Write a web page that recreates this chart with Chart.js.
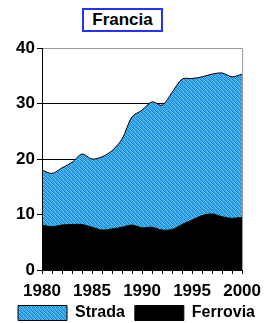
<!DOCTYPE html>
<html>
<head>
<meta charset="utf-8">
<script src="https://cdn.jsdelivr.net/npm/chart.js@4"></script>
<style>
  body { margin: 0; background: #fff; }
  #wrap { position: relative; width: 268px; height: 323px; }
  #title {
    position: absolute; left: 82px; top: 8px; width: 77px; height: 20px;
    border: 2px solid #2233ff; background: #fff;
    font: bold 17px "Liberation Sans", Arial, sans-serif; color: #000;
    text-align: center; line-height: 20px;
  }
</style>
</head>
<body>
<div id="wrap">
  <canvas id="myChart" width="268" height="323"></canvas>
  <div id="title">Francia</div>
</div>
<script>
// years on the x axis
const years = ['1980','1981','1982','1983','1984','1985','1986','1987','1988','1989','1990',
               '1991','1992','1993','1994','1995','1996','1997','1998','1999','2000'];
// rail (bottom layer)
const ferrovia = [8.1, 7.8, 8.1, 8.2, 8.2, 7.7, 7.2, 7.4, 7.7, 8.1, 7.6,
                  7.7, 7.2, 7.3, 8.2, 9.0, 9.8, 10.1, 9.6, 9.3, 9.5];
// road (stacked on top of rail)
const strada = [9.9, 9.6, 10.3, 11.2, 12.7, 12.3, 13.2, 14.1, 15.9, 19.5, 21.2,
                22.6, 22.5, 24.7, 26.2, 25.5, 25.0, 25.2, 25.9, 25.5, 25.8];
const yTicks = [0, 10, 20, 30, 40];

// dithered blue fill like the original
const makePattern = () => {
  const c = document.createElement('canvas');
  c.width = 4; c.height = 4;
  const g = c.getContext('2d');
  const cols = ['#3cc8f0','#2f7fd8','#28a8c8','#44b8f8',
                '#2890d0','#40d0ff','#3570e0','#30b0d8',
                '#38c0e8','#2a98c0','#48c8ff','#3080e0',
                '#3468d8','#3cb8e8','#28a0d0','#40c0f0'];
  cols.forEach((col, i) => { g.fillStyle = col; g.fillRect(i % 4, Math.floor(i / 4), 1, 1); });
  return g.createPattern(c, 'repeat');
};

const font = {family: '"Liberation Sans", Arial, sans-serif', size: 17, weight: 'bold'};
const legendFont = {family: '"Liberation Sans", Arial, sans-serif', size: 16, weight: 'bold'};
const LEGEND_GAP = 10;

// gray top/right frame, black left/bottom axis lines
const borderPlugin = {
  id: 'border',
  afterDraw(chart) {
    const {ctx, chartArea: a} = chart;
    ctx.save();
    ctx.strokeStyle = '#999';
    ctx.lineWidth = 1;
    ctx.beginPath();
    ctx.moveTo(a.left, a.top + 0.5);
    ctx.lineTo(a.right + 0.5, a.top + 0.5);
    ctx.lineTo(a.right + 0.5, a.bottom);
    ctx.stroke();
    ctx.strokeStyle = '#000';
    ctx.beginPath();
    ctx.moveTo(a.left + 0.5, a.top);
    ctx.lineTo(a.left + 0.5, a.bottom + 0.5);
    ctx.lineTo(a.right, a.bottom + 0.5);
    ctx.stroke();
    ctx.restore();
  }
};

// keep the legend on one small row, centred under the whole canvas
const legendPlace = {
  id: 'legendPlace',
  beforeInit(chart) {
    const fit = chart.legend.fit;
    chart.legend.fit = function () {
      this.maxWidth = 268;
      fit.call(this);
      this.height = 21;
    };
  },
  afterLayout(chart) {
    const lg = chart.legend;
    lg.left = 5;
    lg.right = 268;
    lg.top = 305 - LEGEND_GAP;
    lg.bottom = 323;
  }
};

var config = {
  type: 'line',
  data: {
    labels: years,
    datasets: [
      {
        label: 'Ferrovia',
        data: ferrovia,
        fill: 'origin',
        backgroundColor: '#000',
        borderColor: '#000',
        borderWidth: 1,
        pointRadius: 0,
        tension: 0.3
      },
      {
        label: 'Strada',
        data: strada,
        fill: '-1',
        backgroundColor: makePattern(),
        borderColor: '#000',
        borderWidth: 1,
        pointRadius: 0,
        tension: 0.3
      }
    ]
  },
  options: {
    responsive: false,
    animation: false,
    layout: {padding: {top: 48, right: 22, left: 0, bottom: 0}},
    plugins: {
      title: {display: false},
      tooltip: {enabled: false},
      legend: {
        position: 'bottom',
        reverse: true,
        labels: {
          font: legendFont,
          color: '#000',
          boxWidth: 49,
          boxHeight: 15,
          padding: LEGEND_GAP
        }
      }
    },
    scales: {
      x: {
        offset: false,
        border: {display: false},
        afterFit: s => { s.height = 32; },
        grid: {
          display: true,
          drawOnChartArea: false,
          tickLength: 4,
          tickColor: '#000'
        },
        ticks: {
          autoSkip: false,
          maxRotation: 0,
          padding: 7,
          color: '#000',
          font: font,
          callback: (v, i) => (i % 5 === 0 ? years[i] : '')
        }
      },
      y: {
        stacked: true,
        min: 0,
        max: 40,
        border: {display: false},
        afterBuildTicks: s => { s.ticks = yTicks.map(v => ({value: v})); },
        afterFit: s => { s.width = 42; },
        grid: {
          tickLength: 5,
          tickColor: '#000',
          color: ctx => (ctx.tick && ctx.tick.value === 40 ? '#999' : '#000')
        },
        ticks: {
          padding: 2,
          color: '#000',
          font: font
        }
      }
    }
  },
  plugins: [borderPlugin, legendPlace]
};

var myChart = new Chart(document.getElementById('myChart'), config);
</script>
</body>
</html>
